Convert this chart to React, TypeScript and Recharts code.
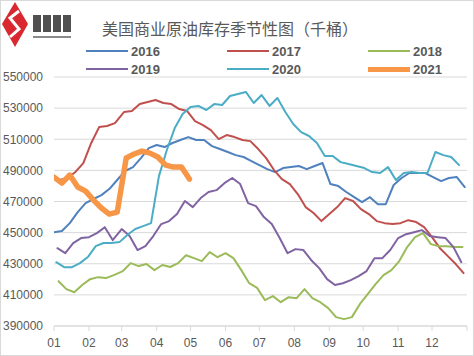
import React from 'react';
import { LineChart, Line, XAxis, YAxis, CartesianGrid } from 'recharts';

// Month labels and first day of each month on a leap-year calendar (day index from Jan 1)
const MONTH_LABELS = ['01', '02', '03', '04', '05', '06', '07', '08', '09', '10', '11', '12', ''];
const MONTH_START_DAYS = [0, 31, 60, 91, 121, 152, 182, 213, 244, 274, 305, 335, 366];
const Y_TICKS = [390000, 410000, 430000, 450000, 470000, 490000, 510000, 530000, 550000];

const YEARS = ['2016', '2017', '2018', '2019', '2020', '2021'];
const FIRST_REPORT = ['01-01', '01-06', '01-05', '01-04', '01-03', '01-01'];
const LEAP_YEAR = [true, false, false, false, true, false];
const COLORS = ['#4F81BD', '#C0504D', '#9BBB59', '#8064A2', '#4BACC6', '#F79646'];
const WIDTHS = [2, 2, 2, 2, 2, 5.5];

// Weekly US commercial crude inventories (thousand barrels)
const S2016 = [450300, 451000, 456100, 463200, 469000, 471600, 474100, 478000, 483800, 489600,
  492100, 497900, 504300, 506300, 505000, 507600, 509500, 511400, 509500, 509500,
  505600, 503700, 501800, 499800, 498600, 496000, 493400, 490800, 488900, 491500,
  492100, 492800, 490800, 492800, 494700, 481200, 479900, 476100, 472800, 469600,
  472800, 468300, 468300, 480600, 485100, 488300, 488300, 488300, 485700, 483100,
  485100, 485700, 479300];
const S2017 = [483800, 485100, 489000, 494700, 507600, 517800, 518500, 520400, 527500, 528100,
  532600, 533900, 535200, 533300, 532600, 529400, 528100, 521700, 519100, 515900,
  510100, 512700, 511400, 509500, 508800, 503700, 497900, 490200, 484400, 481200,
  474800, 466400, 462600, 457400, 461900, 466400, 472200, 470300, 465100, 461900,
  457400, 456100, 455500, 456100, 458000, 456800, 453500, 447100, 440000, 434900,
  429800, 424000];
const S2018 = [418800, 413700, 411700, 416300, 420100, 421400, 420800, 422700, 425300, 430400,
  428500, 429800, 425900, 429200, 427900, 430400, 435500, 433600, 431700, 437500,
  434200, 436800, 433600, 425900, 417500, 414500, 406600, 409200, 405300, 408500,
  407900, 413700, 407900, 405300, 401500, 395700, 394400, 395700, 404000, 410500,
  416900, 422700, 425900, 431700, 440700, 447100, 449700, 442600, 441300, 441300,
  440700, 440700];
const S2019 = [440000, 436800, 443300, 446500, 447100, 449700, 453500, 445200, 452300, 447800,
  438800, 441300, 447800, 455500, 457400, 461900, 470300, 466400, 472200, 476100,
  477300, 481800, 485100, 481200, 469000, 467000, 460000, 455500, 446500, 436800,
  439400, 438800, 432300, 427200, 420100, 416300, 417500, 419500, 422000, 425300,
  433600, 433600, 438800, 446500, 449000, 450300, 451600, 447800, 447100, 446500,
  440700, 431000];
const S2020 = [431000, 427800, 427800, 430400, 434300, 441300, 443300, 443300, 443900, 448500,
  452300, 454200, 456100, 486300, 503100, 517200, 526200, 530700, 531400, 528800,
  532600, 532000, 537800, 539100, 540400, 533300, 538400, 531400, 536500, 527500,
  519800, 514600, 512100, 507600, 499200, 499200, 495300, 494100, 492800, 491500,
  488900, 488300, 492100, 483800, 488300, 488900, 488300, 488300, 501800, 499800,
  498600, 493400];
const S2021 = [485700, 481800, 487000, 479300, 476700, 470900, 465800, 461900, 463200, 498000,
  500500, 502400, 501100, 498600, 493400, 492100, 492100, 484400];

const SERIES = [S2016, S2017, S2018, S2019, S2020, S2021];

function toPoints(values: number[], first: string, leap: boolean) {
  const [m, d] = first.split('-').map(Number);
  const start = MONTH_START_DAYS[m - 1] + d - 1;
  return values.map((v, i) => {
    const day = start + 7 * i;
    return { x: !leap && day >= 59 ? day + 1 : day, v };
  });
}

const LEGEND_ROWS = [[0, 1, 2], [3, 4, 5]];
const LEGEND_COL_X = [86, 227, 368];
const LEGEND_ROW_Y = [51, 69];

export default function App() {
  const textColor = '#595959';
  return (
    <div style={{ position: 'absolute', left: 0, top: 0, width: 474, height: 356, background: '#fff', overflow: 'hidden', fontFamily: '"Liberation Sans", Arial, sans-serif' }}>
      <div style={{ position: 'absolute', left: 0, top: 0 }}>
        <LineChart width={474} height={356} margin={{ top: 77, right: 7, bottom: 0, left: 0 }}>
          <CartesianGrid vertical={false} stroke="#d9d9d9" strokeWidth={1} />
          <XAxis
            type="number"
            dataKey="x"
            domain={[0, 366]}
            ticks={MONTH_START_DAYS}
            allowDataOverflow
            interval={0}
            height={30}
            tickFormatter={(v: number) => MONTH_LABELS[MONTH_START_DAYS.indexOf(v)] ?? ''}
            tick={{ fill: textColor, fontSize: 12 }}
            tickSize={5}
            tickMargin={7}
            axisLine={{ stroke: '#d9d9d9' }}
            tickLine={{ stroke: '#d9d9d9' }}
          />
          <YAxis
            type="number"
            domain={[390000, 550000]}
            ticks={Y_TICKS}
            interval={0}
            width={54}
            axisLine={false}
            tickLine={false}
            tickSize={6}
            tickMargin={5}
            tick={{ fill: textColor, fontSize: 12 }}
          />
          {SERIES.map((s, k) => (
            <Line
              key={YEARS[k]}
              data={toPoints(s, FIRST_REPORT[k], LEAP_YEAR[k])}
              dataKey="v"
              name={YEARS[k]}
              type="linear"
              stroke={COLORS[k]}
              strokeWidth={WIDTHS[k]}
              strokeLinejoin="round"
              strokeLinecap="round"
              dot={false}
              activeDot={false}
              isAnimationActive={false}
            />
          ))}
        </LineChart>
      </div>

      {/* logo */}
      <svg style={{ position: 'absolute', left: 0, top: 0 }} width={80} height={50}>
        <polygon points="15,2 28,24 15,47 2,24" fill="#D9282F" />
        <path d="M19,11 L10,18 L19,29 L10,37" stroke="#fff" strokeWidth={3} fill="none" />
        <g fill="#505050">
          <rect x={33} y={15} width={8} height={17} />
          <rect x={43} y={15} width={8} height={17} />
          <rect x={53} y={15} width={8} height={17} />
          <rect x={63} y={15} width={8} height={17} />
        </g>
        <rect x={33} y={36} width={38} height={2} fill="#8a8a8a" />
      </svg>

      {/* title */}
      <div style={{ position: 'absolute', left: 102, top: 17, fontSize: 16, lineHeight: '22px', color: textColor, fontFamily: '"Noto Sans CJK SC", sans-serif', whiteSpace: 'nowrap' }}>
        美国商业原油库存季节性图（千桶）
      </div>

      {/* legend */}
      {LEGEND_ROWS.map((row, r) => row.map((k, c) => (
        <div key={YEARS[k]} style={{ position: 'absolute', left: LEGEND_COL_X[c], top: LEGEND_ROW_Y[r] - 9, height: 18, display: 'flex', alignItems: 'center', whiteSpace: 'nowrap' }}>
          <div style={{ width: 42, height: k === 5 ? 5 : 2, background: COLORS[k] }} />
          <span style={{ marginLeft: 3, fontSize: 13, fontWeight: 'bold', color: textColor }}>{YEARS[k]}</span>
        </div>
      )))}

      <div style={{ position: 'absolute', left: 0, top: 0, width: 474, height: 356, boxSizing: 'border-box', border: '1px solid #d9d9d9', pointerEvents: 'none' }} />
    </div>
  );
}
